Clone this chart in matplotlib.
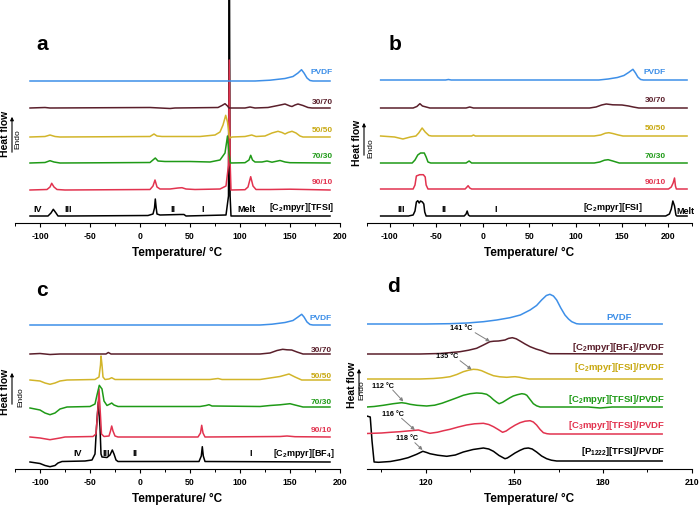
import matplotlib
matplotlib.use('Agg')
import matplotlib.pyplot as plt
from matplotlib.patches import FancyArrowPatch
from matplotlib.ticker import MultipleLocator

plt.rcParams['font.family'] = ['Liberation Sans', 'DejaVu Sans']
plt.rcParams['mathtext.fontset'] = 'custom'
plt.rcParams['mathtext.rm'] = 'Liberation Sans'
plt.rcParams['mathtext.bf'] = 'Liberation Sans:bold'
plt.rcParams['mathtext.default'] = 'bf'
plt.rcParams['axes.unicode_minus'] = False

# ---- panel a : [C2mpyr][TFSI] / PVDF blends, (T in degC, heat flow) ----
a_pvdf = [(-110, 0), (115, 0), (130, 0.8), (145, 2.5), (153, 4.5), (158, 8), (161.5, 11.3),
          (164, 8), (167, 3), (170, 0.5), (173, 0), (190, 0)]
a_3070 = [(-110, 0), (-95, 0.5), (-90, 0), (10, 0.5), (20, 0), (30, -0.5), (35, 0), (78, 0.5),
          (82, 2.5), (85, 4.3), (87.5, 2), (89, 0), (105, 0), (110, 1), (115, 0), (128, 0.5),
          (138, 2.5), (145, 4), (150, 2), (152, 1.5), (155, 3), (158, 4), (163, 2.5), (168, 0.5),
          (172, 0), (190, 0)]
a_5050 = [(-110, 0), (-95, 0.5), (-90, 2), (-85, 0.5), (-80, 0), (10, 0.5), (14, 3), (17, 1),
          (22, 0.5), (60, 0.5), (75, 2), (80, 5), (83, 12), (85.7, 21.7), (87.5, 15), (89, 3),
          (90, -1), (92, 0), (105, 0.5), (111.7, 2), (116, 0.5), (125, 1), (132, 4), (138, 5.7),
          (142, 4.5), (145, 3), (148, 4.5), (152, 5.7), (156, 4), (160, 1), (163, 0), (190, 0)]
a_7030 = [(-110, 0), (-95, 0.5), (-90, 2.3), (-86, 1), (-80, 0), (10, 0.5), (15.3, 5), (18, 2),
          (25, 1.5), (50, 1.5), (70, 1), (80, 3), (85, 10), (87.5, 27), (89, 10), (90.5, 0),
          (105, 0.3), (109, 3), (110.7, 7.7), (112.5, 3), (115, 1), (122, 1), (127, 2), (132, 0.8),
          (140, 2.5), (145, 1), (150, 0.3), (190, 0)]
a_9010 = [(-110, 0), (-93, 0.5), (-90, 3), (-88.3, 6.7), (-86, 3), (-83, 0.5), (-75, 0), (10, 0.5),
          (13, 4), (15, 10), (17, 3), (20, 1), (30, 1), (38, 2), (42, 2.3), (46, 1), (55, 0.5),
          (80, 1), (86, 4), (88.5, 25), (89.3, 130), (90.2, 25), (91, 0), (105, 0.3), (108, 3),
          (110.7, 13.3), (113, 4), (116, 0.5), (130, 0.5), (150, 0.8), (190, 0)]
a_tfsi = [(-110, 0), (-92, 0), (-89, 3), (-86.7, 6.7), (-84, 3), (-82, 0), (-70, 0), (8, 0.5),
          (13, 2), (14.5, 8), (15.3, 17), (16.2, 8), (17, 2), (20, 1), (40, 1.5), (44, 1.5),
          (46, 0), (86, 1), (88.5, 20), (89.3, 300), (90.1, 20), (91, 0), (190, 0)]

# ---- panel b : [C2mpyr][FSI] / PVDF blends ----
b_pvdf = [(-110, 0), (-40, 0), (-37, 0.5), (-34, 0), (125, 0), (135, 1), (145, 2.5), (152, 4.5),
          (157, 7.5), (161.7, 10.7), (164.5, 7), (167, 3), (170, 0.5), (173, 0), (220, 0)]
b_3070 = [(-110, 0), (-75, 0), (-71, 1.5), (-67.7, 4.3), (-65, 2), (-61, 1), (-57, 0), (-18, 0),
          (-14, 1), (-10, 0), (115, 0), (122, 1), (128, 3), (133, 4), (140, 3.2), (150, 3),
          (157, 2), (162, 1), (168, 0), (220, 0)]
b_5050 = [(-110, 0), (-95, -1), (-86, -3), (-78, -1), (-72, 0), (-69, 3), (-65.3, 8), (-62, 4),
          (-58, 0.5), (-55, 0), (-12, 0), (-10, 1), (-8, 0), (120, 0), (127, 1), (132, 2.8),
          (135.8, 3.3), (140, 2.5), (146, 1), (151, 0), (220, 0)]
b_7030 = [(-110, 0), (-76, 0), (-73, 3), (-70, 8), (-67, 10), (-63, 10), (-61, 6), (-59, 1),
          (-56, 0), (-18, 0), (-14.7, 2), (-12, 0), (120, 0), (126, 1), (131, 2.8), (135, 3.3),
          (140, 2), (147, 0), (220, 0)]
b_9010 = [(-110, 0), (-75, 0), (-73, 4), (-71.5, 13), (-68, 14.3), (-64, 14.3), (-62, 12),
          (-61, 4), (-59, 0), (-19, 0), (-17, 2), (-15.8, 3.3), (-14, 1), (-12, 0), (200, 0),
          (203, 2), (205, 6), (206.5, 11), (207.5, 3), (208.5, 0), (220, 0)]
b_fsi = [(-110, 0), (-80, 0), (-75, 1), (-73, 5), (-71.5, 14), (-70, 15.3), (-68.5, 13), (-67, 15),
         (-65, 14), (-63.5, 12), (-62.5, 4), (-61, 0), (-20, 0), (-18, 2), (-16.8, 5), (-15.5, 1),
         (-14, 0), (197, 0), (201, 2), (203, 7), (204.7, 15), (206.5, 10), (208, 1), (209, 0),
         (220, 0)]

# ---- panel c : [C2mpyr][BF4] / PVDF blends ----
c_pvdf = [(-110, 0), (120, 0), (132, 0.8), (145, 2.5), (153, 4.5), (158, 8), (161.7, 10.7),
          (164, 8), (167, 3), (170, 0.5), (173, 0), (190, 0)]
c_3070 = [(-110, 0), (-100, 0.5), (-90, -0.5), (-80, 0), (-34, 0), (-31.7, 1.5), (-29, 0),
          (120, 0), (130, 1), (137, 3.5), (142.7, 4.7), (147, 4.2), (151.7, 4), (157, 2),
          (163, 0), (190, 0)]
c_5050 = [(-110, 0), (-100, -1), (-95, -3), (-90, -4.3), (-85, -3), (-80, -1), (-73, 0),
          (-45, 0.5), (-41, 3), (-39.5, 15), (-39, 24), (-38, 15), (-37, 3), (-35, 0.5), (-31, 1),
          (-28.3, 2.3), (-25, 0.5), (70, 0.5), (78, 1.5), (82, 0.5), (120, 0.5), (130, 2),
          (140, 3.5), (149, 6), (155, 3), (161.7, 0), (190, 0)]
c_7030 = [(-110, -1), (-100, -3), (-95, -6), (-90, -7.7), (-85, -6), (-80, -2), (-73, 0),
          (-50, 0.5), (-45, 3), (-43, 12), (-40.7, 21.7), (-38, 18), (-36, 6), (-33, 1.5),
          (-30, 3), (-28.3, 4), (-26, 2), (-22, 0.5), (60, 0.5), (66, 1.5), (69, 2.3), (72, 1),
          (120, 0.5), (130, 1.5), (140, 2.2), (150, 3.3), (155, 2), (163, 0), (190, 0)]
c_9010 = [(-110, 0), (-100, -1), (-90, -2.7), (-80, -1), (-75, 0), (-47, 0.5), (-44, 3),
          (-42, 30), (-41, 48), (-40, 30), (-38.5, 3), (-36, 0.5), (-31, 1), (-29.5, 6),
          (-28.3, 11), (-27, 6), (-25, 1), (-22, 0), (58, 0), (60.5, 4), (61.7, 11.7), (63, 4),
          (65, 0), (140, 0.5), (147, 1), (155, 0.3), (190, 0)]
c_bf4 = [(-110, 0), (-100, -1.5), (-95, -3.5), (-90, -4.7), (-85, -3.5), (-82, -1), (-78, 0.5),
         (-55, 1), (-48, 2), (-45, 8), (-43.5, 35), (-41.7, 60), (-40, 35), (-39, 8), (-38, 5),
         (-33, 4.5), (-30, 7), (-27.7, 12), (-26, 8), (-24, 2), (-22, 0.5), (59, 0.5), (61.3, 6),
         (62.3, 15.3), (63.3, 6), (65, 0.5), (190, 0)]

# ---- panel d : IL / PVDF (mass ratio 30/70) ----
d_pvdf = [(100, 0), (120, 0), (128, 0.3), (134, 1), (139.5, 2.3), (144, 4), (148.5, 6.3),
          (152, 9), (155.3, 14), (157.5, 18.5), (159.2, 24), (160.8, 28.5), (162, 29.7),
          (163.2, 28), (164.3, 24), (165.7, 16), (167.1, 9), (168.3, 5), (169.4, 2.3),
          (171, 0.3), (172, 0), (200, 0)]
d_bf4 = [(100, 0), (118, 0), (124.8, 0.5), (128, 1.3), (131.6, 2.3), (134.5, 3.8), (137.2, 5.7),
         (139.5, 9), (141.7, 12.3), (143, 12.8), (144.6, 13), (146.8, 14), (148, 15.6),
         (149.3, 16.3), (150.6, 15.2), (151.9, 13), (153.6, 10), (155.3, 7.3), (157.3, 5),
         (159.2, 3.3), (161, 1.2), (162, 0.3), (200, 0)]
d_fsi = [(100, 0), (118, 0), (122.6, 0.5), (125.5, 1.2), (128.2, 2.3), (130.5, 4.5), (132.7, 7.3),
         (134.5, 8.8), (136.1, 9.7), (137.5, 9.4), (138.9, 8.3), (141, 5.5), (142.9, 3.3),
         (145, 2.2), (147.4, 1.7), (149, 2.1), (150.2, 2.3), (151.6, 1.8), (153, 1), (155, 0),
         (200, 0)]
d_tfsi = [(100, 0), (102.5, 0.5), (105.6, 1.7), (109, 3.3), (111.8, 4.3), (113.3, 3.7),
          (114.7, 2.7), (117, 1.7), (120.3, 1), (123, 1.8), (125.5, 3.8), (128.2, 6.7),
          (130.5, 9.2), (132.7, 11.7), (135, 13.3), (137.2, 14), (139, 13.7), (140.6, 12.7),
          (141.8, 10.3), (142.9, 7.3), (144, 4.8), (144.8, 3.3), (146, 4.7), (147.4, 7.3),
          (148.5, 9.3), (149.6, 11), (151, 12.3), (152.5, 13.3), (153.5, 12.8), (154.2, 11.7),
          (155.3, 7.5), (156.4, 3.3), (157.5, 1.2), (158.7, 0), (175, 0), (179, -1), (183, 0),
          (200, 0)]
d_c3 = [(100, 0.5), (105, 1), (108, 1.7), (111.3, 2.3), (114.5, 3.2), (117.5, 4), (119.5, 2.2),
        (121.4, 0.7), (124, 1.8), (126, 3.3), (128.2, 4.7), (131, 7), (133.8, 9), (136.5, 10.2),
        (139.5, 10.7), (141.3, 9.5), (142.9, 7.3), (144.5, 4.5), (146, 1.7), (147.2, 3),
        (148.5, 5.7), (150.2, 8.8), (151.9, 11.3), (153.6, 12.8), (155.3, 13.3), (156.4, 12),
        (157.5, 9), (158.7, 4.5), (159.8, 1.3), (161, 0.3), (162, 0), (200, 0)]
d_p1222 = [(100, 45), (101.2, 44), (101.8, 20), (102.5, -1), (104, -1.3), (108, -0.5),
           (111.3, 1.3), (114, 3.3), (116.9, 6.7), (119, 9.7), (120.3, 8.5), (121.4, 7.3),
           (124, 5.8), (127.1, 4.7), (130, 6), (132.7, 9), (136, 11.5), (139.5, 13), (141.3, 12),
           (142.9, 9.7), (144.8, 5.5), (146.8, 2.3), (147.6, 3), (148.5, 4.7), (150.2, 8),
           (151.9, 10.7), (153.3, 12.5), (154.7, 13), (156, 12), (157.5, 9), (159.2, 5),
           (160.9, 2.3), (162.5, 0.8), (164.3, 0), (200, 0)]

blend_names = ['90/10', '70/30', '50/50', '30/70', 'PVDF']
d_names = ['[P$_{1222}$][TFSI]/PVDF', '[C$_3$mpyr][TFSI]/PVDF', '[C$_2$mpyr][TFSI]/PVDF',
           '[C$_2$mpyr][FSI]/PVDF', '[C$_2$mpyr][BF$_4$]/PVDF', 'PVDF']
d_onsets = ['118 °C', '116 °C', '112 °C', '135 °C', '141 °C']

# bottom -> top
colors = ['black', '#e2334f', '#1f9a17', '#d2b52a', '#5a1f2b', '#3d8fe8']
text_colors = ['black', '#e2334f', '#1f9a17', '#c8a810', '#5a1f2b', '#3d8fe8']

W, H = 700, 507
fig = plt.figure(figsize=(7, 5.07), dpi=100)


def make_axes(left, right, spine_y, xlim, major, minor):
    ax = fig.add_axes([left / W, (H - spine_y) / H, (right - left) / W, 223 / H])
    ax.patch.set_visible(False)
    ax.set_xlim(*xlim)
    ax.set_ylim(0, 223)
    for s in ['left', 'top', 'right']:
        ax.spines[s].set_visible(False)
    ax.spines['bottom'].set_linewidth(0.8)
    ax.set_yticks([])
    ax.xaxis.set_major_locator(MultipleLocator(major))
    ax.xaxis.set_minor_locator(MultipleLocator(minor))
    ax.tick_params(axis='x', which='major', direction='out', length=3, width=0.8,
                   labelsize=6.3, pad=3.5)
    ax.tick_params(axis='x', which='minor', direction='out', length=2, width=0.7)
    for lab in ax.get_xticklabels():
        lab.set_fontweight('bold')
    ax.set_xlabel('Temperature/ °C', fontsize=8.5, fontweight='bold', labelpad=4)
    return ax


def draw(ax, curves, offsets):
    for i, c in enumerate(curves):
        ax.plot([p[0] for p in c], [offsets[i] + p[1] for p in c], color=colors[i], lw=1.1)


def heat_flow(x, yc, y0, y1, xe):
    fig.text(x / W, 1 - yc / H, 'Heat flow', rotation=90, ha='center', va='center',
             fontsize=7.5, fontweight='bold')
    fig.add_artist(FancyArrowPatch(((x + 7) / W, 1 - y0 / H), ((x + 7) / W, 1 - y1 / H),
                                   transform=fig.transFigure, arrowstyle='-|>',
                                   mutation_scale=5, lw=0.8, color='black'))
    fig.text(xe / W, 1 - (yc + 5) / H, 'Endo', rotation=90, ha='center', va='center',
             fontsize=6)


# panel a
ax = make_axes(15, 340, 223, (-125, 200), 50, 25)
draw(ax, [a_tfsi, a_9010, a_7030, a_5050, a_3070, a_pvdf], [7, 33, 60, 86, 115, 142])
for i, (name, y) in enumerate(zip(blend_names, [40, 66, 93, 121, 151])):
    ax.text(193, y, name, color=text_colors[i + 1], fontsize=6, fontweight='bold',
            ha='right', va='center')
ax.text(194, 15, '[C$_2$mpyr][TFSI]', fontsize=6.5, fontweight='bold', ha='right', va='center')
for t, s in [(-102, 'IV'), (-71.7, 'III'), (32.7, 'II'), (62.7, 'I'), (106, 'Melt')]:
    ax.text(t, 14, s, fontsize=6.5, fontweight='bold', ha='center', va='center')
fig.text(42 / W, 1 - 45 / H, 'a', fontsize=15, fontweight='bold', ha='center', va='center')
heat_flow(5, 134, 155, 114, 18)

# panel b
ax = make_axes(366.7, 691.7, 223, (-125, 225), 50, 25)
draw(ax, [b_fsi, b_9010, b_7030, b_5050, b_3070, b_pvdf], [7, 34, 60, 87, 115, 143])
for i, (name, y) in enumerate(zip(blend_names, [40, 66, 94, 123, 151])):
    ax.text(197, y, name, color=text_colors[i + 1], fontsize=6, fontweight='bold',
            ha='right', va='center')
ax.text(140, 16, '[C$_2$mpyr][FSI]', fontsize=6.5, fontweight='bold', ha='center', va='center')
ax.text(209, 12, 'Melt', fontsize=6.5, fontweight='bold', ha='left', va='center')
for t, s in [(-87.4, 'III'), (-41.6, 'II'), (13.6, 'I')]:
    ax.text(t, 14, s, fontsize=6.5, fontweight='bold', ha='center', va='center')
fig.text(395 / W, 1 - 45 / H, 'b', fontsize=15, fontweight='bold', ha='center', va='center')
heat_flow(357, 143, 158, 120, 371)

# panel c
ax = make_axes(15, 340, 469, (-125, 200), 50, 25)
draw(ax, [c_bf4, c_9010, c_7030, c_5050, c_3070, c_pvdf], [7, 32, 62, 89, 115, 144])
for i, (name, y) in enumerate(zip(blend_names, [39, 66, 93, 119, 151])):
    ax.text(192, y, name, color=text_colors[i + 1], fontsize=6, fontweight='bold',
            ha='right', va='center')
ax.text(195, 15, '[C$_2$mpyr][BF$_4$]', fontsize=6.5, fontweight='bold', ha='right',
        va='center')
for t, s in [(-62.7, 'IV'), (-34, 'III'), (-5, 'II'), (110.7, 'I')]:
    ax.text(t, 16, s, fontsize=6.5, fontweight='bold', ha='center', va='center')
fig.text(42 / W, 1 - 290 / H, 'c', fontsize=15, fontweight='bold', ha='center', va='center')
heat_flow(5, 392, 407, 370, 21)

# panel d
ax = make_axes(366.7, 691.7, 469, (100, 210), 30, 15)
draw(ax, [d_p1222, d_c3, d_tfsi, d_fsi, d_bf4, d_pvdf], [8, 35, 62, 90, 115, 145])
for i, (name, y) in enumerate(zip(d_names, [17, 44, 70, 101, 122, 151])):
    if name == 'PVDF':
        ax.text(185.5, y, name, color=text_colors[i], fontsize=6.8, fontweight='bold',
                ha='center', va='center')
    else:
        ax.text(201, y, name, color=text_colors[i], fontsize=6.8, fontweight='bold',
                ha='right', va='center')
# onset annotations: text centre, arrow tail, arrow head
onset_pos = [((113.5, 30.7), (116.3, 26.3), (118.9, 19)),
             ((109, 54.7), (111.8, 50.7), (116.3, 39)),
             ((105.6, 82.3), (108.8, 79), (112.4, 67.5)),
             ((127.3, 112), (131.6, 108.3), (135.5, 99.5)),
             ((132.1, 141), (136.7, 136.3), (141.7, 127.5))]
for s, (tp, tail, head) in zip(d_onsets, onset_pos):
    ax.text(tp[0], tp[1], s, fontsize=5.2, fontweight='bold', ha='center', va='center')
    ax.annotate('', xy=head, xytext=tail,
                arrowprops=dict(arrowstyle='-|>', color='#808080', lw=0.7, mutation_scale=5,
                                shrinkA=0, shrinkB=0))
fig.text(393 / W, 1 - 287 / H, 'd', fontsize=15, fontweight='bold', ha='center', va='center')
heat_flow(352, 385, 398, 366, 362)

fig.savefig('out.png', dpi=100)
